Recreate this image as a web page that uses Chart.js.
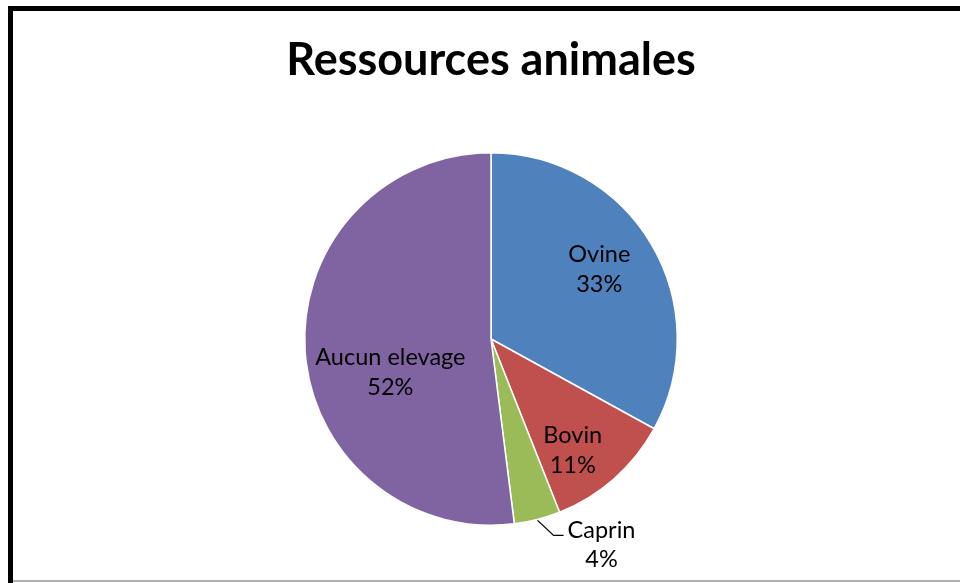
<!DOCTYPE html>
<html>
<head>
<meta charset="utf-8">
<script src="https://cdn.jsdelivr.net/npm/chart.js@4.4.1/dist/chart.umd.min.js"></script>
<style>
  html, body { margin: 0; padding: 0; background: #fff; }
  #wrap { width: 960px; height: 583px; }
</style>
</head>
<body>
<div id="wrap"><canvas id="graficoAnimales" width="960" height="583"></canvas></div>
<script>
// Datos
const categorias = ["Ovine", "Bovin", "Caprin", "Aucun elevage"];
const valores = [33, 11, 4, 52];
const colores = ["#4F81BD", "#C0504D", "#9BBB59", "#8064A2"];

// ajuste de las etiquetas (fraccion del radio y giro en grados)
const etiquetaRadio = [0.69, 0.74, null, 0.57];
const etiquetaGiro = [-2, 5, 0, -15];

const fuente = "Lato, 'Open Sans', sans-serif";

// marco negro del grafico
const marco = {
  id: "marco",
  beforeDraw(chart) {
    const ctx = chart.ctx;
    ctx.save();
    ctx.fillStyle = "#fff";
    ctx.fillRect(0, 0, chart.width, chart.height);
    ctx.fillStyle = "#000";
    ctx.fillRect(8, 6, 5, chart.height - 6);
    ctx.fillRect(8, 6, chart.width - 8, 5);
    ctx.fillStyle = "#b0b0b0";
    ctx.fillRect(13, 580, chart.width - 13, 2);
    ctx.restore();
  },
};

// etiquetas de datos (nombre + porcentaje)
const etiquetas = {
  id: "etiquetas",
  afterDatasetsDraw(chart) {
    const ctx = chart.ctx;
    const meta = chart.getDatasetMeta(0);
    const total = valores.reduce((a, b) => a + b, 0);
    ctx.save();
    ctx.font = "23.5px " + fuente;
    ctx.fillStyle = "#000";
    ctx.textBaseline = "middle";
    meta.data.forEach((arc, i) => {
      const p = arc.getProps(["x", "y", "startAngle", "endAngle", "outerRadius"], true);
      const pct = Math.round((valores[i] / total) * 100) + "%";
      const mid = (p.startAngle + p.endAngle) / 2 + (etiquetaGiro[i] * Math.PI) / 180;
      if (etiquetaRadio[i] !== null) {
        const r = p.outerRadius * etiquetaRadio[i];
        const lx = p.x + Math.cos(mid) * r;
        const ly = p.y + Math.sin(mid) * r;
        ctx.textAlign = "center";
        ctx.fillText(categorias[i], lx, ly - 15);
        ctx.fillText(pct, lx, ly + 15);
      } else {
        // etiqueta exterior con linea guia
        const ex = p.x + Math.cos(mid) * (p.outerRadius + 1);
        const ey = p.y + Math.sin(mid) * (p.outerRadius + 1);
        const bx = ex + 16;
        const by = ey + 15;
        ctx.strokeStyle = "#000";
        ctx.lineWidth = 1.3;
        ctx.beginPath();
        ctx.moveTo(ex, ey);
        ctx.lineTo(bx, by);
        ctx.lineTo(bx + 10, by);
        ctx.stroke();
        ctx.textAlign = "left";
        ctx.fillText(categorias[i], bx + 14, by - 5);
        ctx.textAlign = "center";
        const w = ctx.measureText(categorias[i]).width;
        ctx.fillText(pct, bx + 14 + w / 2, by + 24);
      }
    });
    ctx.restore();
  },
};

new Chart(document.getElementById("graficoAnimales").getContext("2d"), {
  type: "pie",
  data: {
    labels: categorias,
    datasets: [
      {
        data: valores,
        backgroundColor: colores,
        borderColor: "#fff",
        borderWidth: 1.5,
      },
    ],
  },
  options: {
    responsive: false,
    animation: false,
    layout: {
      padding: { top: 0, left: 200, right: 178, bottom: 57 },
    },
    plugins: {
      legend: { display: false },
      tooltip: { enabled: false },
      title: {
        display: true,
        text: "Ressources animales",
        color: "#000",
        font: { family: fuente, size: 45, weight: "bold" },
        padding: { top: 33, bottom: 65 },
      },
    },
  },
  plugins: [marco, etiquetas],
});
</script>
</body>
</html>
